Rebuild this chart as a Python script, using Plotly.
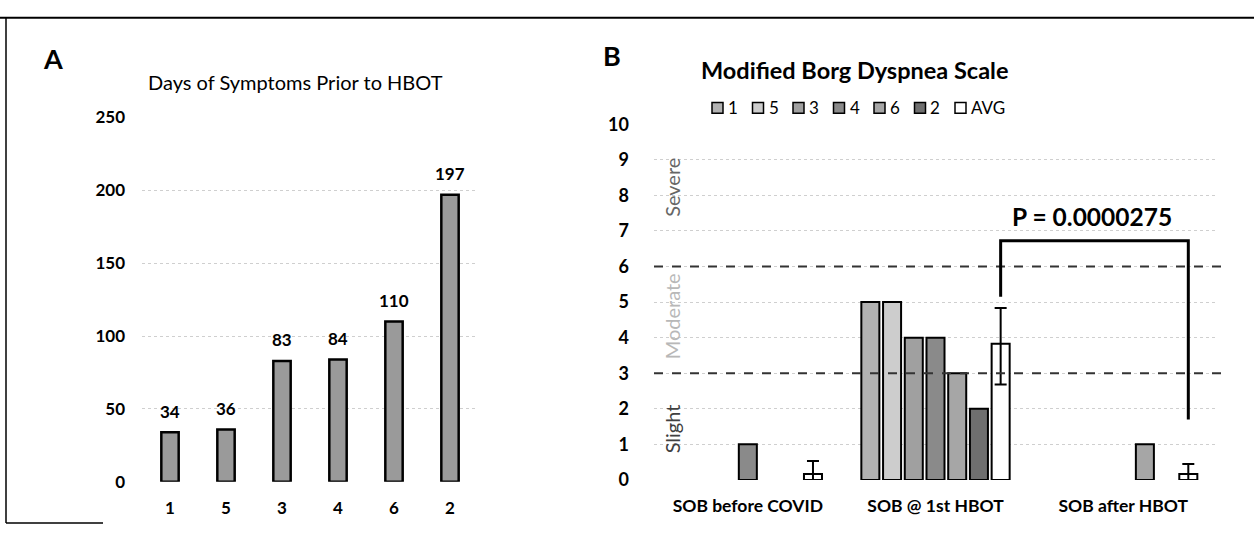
import plotly.graph_objects as go

# ---------------- data ----------------
# Panel A
patients_a = ["1", "5", "3", "4", "6", "2"]
days_symptoms = [34, 36, 83, 84, 110, 197]

# Panel B
groups_b = ["SOB before COVID", "SOB @ 1st HBOT", "SOB after HBOT"]
patient_names = ["1", "5", "3", "4", "6", "2"]
scores = {
    "1": [0, 5, 0],
    "5": [0, 5, 0],
    "3": [0, 4, 0],
    "4": [1, 4, 0],
    "6": [0, 3, 1],
    "2": [0, 2, 0],
}
avg_name = "AVG"
avg_scores = [0.17, 3.83, 0.17]
avg_err_plus = [0.36, 1.0, 0.28]
avg_err_minus = [0.36, 1.15, 0.28]
p_value_text = "P = 0.0000275"
zone_labels = ["Severe", "Moderate", "Slight"]
zone_label_values = [8.24, 4.6, 1.45]
zone_bounds = [3, 6]

# ---------------- styles ----------------
FONT = "Lato"
patient_colors = {
    "1": "#b2b2b2",
    "5": "#cdcdcd",
    "3": "#a0a0a0",
    "4": "#8a8a8a",
    "6": "#a6a6a6",
    "2": "#6f6f6f",
}
zone_colors = ["#666666", "#b8b8b8", "#404040"]
GRID = "#cfcfcf"
W, H = 1254, 535


def drawn(vals):
    # zero-height bars are not drawn in the original
    return [v if v else None for v in vals]


fig = go.Figure()

# Panel A bars
fig.add_trace(go.Bar(
    x=patients_a, y=days_symptoms, xaxis="x", yaxis="y",
    width=0.31, marker=dict(color="#9a9a9a", line=dict(color="black", width=2.5)),
    showlegend=False, hoverinfo="x+y",
))

# Panel B bars
for name in patient_names:
    fig.add_trace(go.Bar(
        x=groups_b, y=drawn(scores[name]), name=name, xaxis="x2", yaxis="y2",
        marker=dict(color=patient_colors[name], line=dict(color="black", width=2)),
        showlegend=False,
    ))
fig.add_trace(go.Bar(
    x=groups_b, y=avg_scores, name=avg_name, xaxis="x2", yaxis="y2",
    marker=dict(color="white", line=dict(color="black", width=2)),
    error_y=dict(type="data", array=avg_err_plus, arrayminus=avg_err_minus,
                 color="black", thickness=2, width=6, symmetric=False),
    showlegend=False,
))

BARGAP = 0.19
fig.update_layout(
    width=W, height=H, autosize=False,
    margin=dict(l=0, r=0, t=0, b=0),
    paper_bgcolor="white", plot_bgcolor="white",
    barmode="group", bargap=BARGAP, bargroupgap=0.17,
    font=dict(family=FONT, color="black"),
    showlegend=False,
    xaxis=dict(
        domain=[142 / W, 478 / W], anchor="y", range=[-0.5, 5.5],
        showgrid=False, showline=False, zeroline=False, ticks="",
        tickfont=dict(family=FONT, size=17, weight=700, color="black"),
        ticklabelstandoff=14,
    ),
    yaxis=dict(
        domain=[45 / H, 425 / H], anchor="x", range=[0, 250], dtick=50,
        showgrid=True, gridcolor=GRID, griddash="dot", gridwidth=1,
        showline=False, zeroline=False, ticks="",
        tickfont=dict(family=FONT, size=17, weight=700, color="black"),
        ticklabelstandoff=16,
    ),
    xaxis2=dict(
        domain=[654 / W, 1217 / W], anchor="y2", range=[-0.5, 2.5],
        showgrid=False, showline=False, zeroline=False, ticks="",
        tickfont=dict(family=FONT, size=17.5, weight=700, color="black"),
        ticklabelstandoff=14,
    ),
    yaxis2=dict(
        domain=[47 / H, 418 / H], anchor="x2", range=[0, 10], dtick=1,
        showgrid=True, gridcolor=GRID, griddash="dot", gridwidth=1,
        showline=False, zeroline=False, ticks="",
        tickfont=dict(family=FONT, size=18, weight=700, color="black"),
        ticklabelstandoff=24,
    ),
)

annotations = []
shapes = []
# value labels on panel A
for i, val in enumerate(days_symptoms):
    annotations.append(dict(
        x=i, y=val, xref="x", yref="y", text=str(val), showarrow=False,
        yanchor="middle", yshift=21,
        font=dict(family=FONT, size=17, weight=700, color="black"),
    ))

# panel letters and titles
annotations += [
    dict(x=53 / W, y=1 - 49 / H, xref="paper", yref="paper", text="A",
         showarrow=False, xanchor="center", yanchor="middle",
         font=dict(family=FONT, size=27, weight=700, color="black")),
    dict(x=295 / W, y=1 - 73 / H, xref="paper", yref="paper",
         text="Days of Symptoms Prior to HBOT", showarrow=False,
         xanchor="center", yanchor="middle",
         font=dict(family=FONT, size=20, color="black")),
    dict(x=612 / W, y=1 - 45 / H, xref="paper", yref="paper", text="B",
         showarrow=False, xanchor="center", yanchor="middle",
         font=dict(family=FONT, size=27, weight=700, color="black")),
    dict(x=855 / W, y=1 - 60 / H, xref="paper", yref="paper",
         text="Modified Borg Dyspnea Scale", showarrow=False,
         xanchor="center", yanchor="middle",
         font=dict(family=FONT, size=23.5, weight=700, color="black")),
]

# hand-placed compact legend (same order/colors as the traces)
legend_names = patient_names + [avg_name]
legend_colors = [patient_colors[n] for n in patient_names] + ["white"]
LEG_X0, LEG_STEP, LEG_Y, SW = 712, 40.5, 100, 11
for k, (nm, col) in enumerate(zip(legend_names, legend_colors)):
    x0 = LEG_X0 + k * LEG_STEP
    shapes.append(dict(
        type="rect", xref="paper", yref="paper",
        x0=x0 / W, x1=(x0 + SW) / W, y0=1 - (LEG_Y + SW / 2) / H, y1=1 - (LEG_Y - SW / 2) / H,
        fillcolor=col, line=dict(color="black", width=1.5),
    ))
    annotations.append(dict(
        x=(x0 + SW + 3) / W, y=1 - LEG_Y / H, xref="paper", yref="paper", text=nm,
        showarrow=False, xanchor="left", yanchor="middle",
        font=dict(family=FONT, size=17, color="black"),
    ))

# severity zone labels
zone_x = (672 - 654) / (1217 - 654)
for txt, yv, col in zip(zone_labels, zone_label_values, zone_colors):
    annotations.append(dict(
        x=zone_x, y=yv, xref="x2 domain", yref="y2", text=txt, textangle=-90,
        showarrow=False, xanchor="center", yanchor="middle",
        font=dict(family=FONT, size=20, color=col),
    ))

# significance bracket (from AVG bar of group 2 to AVG bar of group 3)
slot = (1 - BARGAP) / 7
avg_offset = 3 * slot
x_left = 1 + avg_offset
x_right = 2 + avg_offset
BR_TOP, BR_LEFT_BOTTOM, BR_RIGHT_BOTTOM = 6.72, 5.15, 1.7
annotations.append(dict(
    x=(x_left + x_right) / 2 - 0.012, y=7.4, xref="x2", yref="y2", text=p_value_text,
    showarrow=False, xanchor="center", yanchor="middle",
    font=dict(family=FONT, size=24.5, weight=700, color="black"),
))

# dashed severity boundaries
for yb in zone_bounds:
    shapes.append(dict(type="line", xref="x2 domain", yref="y2", x0=0, x1=1.01, y0=yb, y1=yb,
                       line=dict(color="#333333", width=2, dash="dash")))
shapes += [
    dict(type="path", xref="x2", yref="y2",
         path=f"M {x_left},{BR_LEFT_BOTTOM} L {x_left},{BR_TOP} L {x_right},{BR_TOP} L {x_right},{BR_RIGHT_BOTTOM}",
         line=dict(color="black", width=3)),
    # page frame fragments
    dict(type="line", xref="paper", yref="paper", x0=0, x1=1, y0=1 - 6 / H, y1=1 - 6 / H,
         line=dict(color="black", width=2)),
    dict(type="line", xref="paper", yref="paper", x0=6 / W, x1=6 / W, y0=1 - 6 / H, y1=1 - 533 / H,
         line=dict(color="black", width=1.5)),
    dict(type="line", xref="paper", yref="paper", x0=6 / W, x1=103 / W, y0=1 - 533 / H, y1=1 - 533 / H,
         line=dict(color="black", width=1.5)),
]
fig.update_layout(annotations=annotations, shapes=shapes)

post = ("document.body.style.margin='0';"
        "var d=document.getElementById('{plot_id}');"
        "d.style.position='absolute';d.style.left='0px';d.style.top='0px';")
fig.write_html("out.html", post_script=post, config={"displayModeBar": False})
